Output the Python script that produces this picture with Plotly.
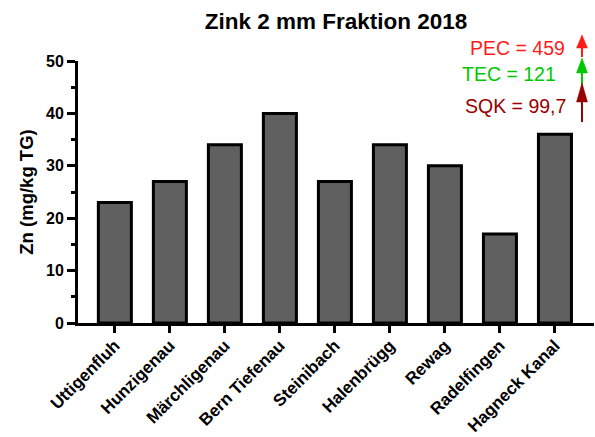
import plotly.graph_objects as go

# Zinc in the 2 mm fraction, 2018 (mg/kg dry weight)
sites = ["Uttigenfluh", "Hunzigenau", "Märchligenau", "Bern Tiefenau", "Steinibach",
         "Halenbrügg", "Rewag", "Radelfingen", "Hagneck Kanal"]
zn_values = [23, 27, 34, 40, 27, 34, 30, 17, 36]

# Threshold values, all above the plotted range
threshold_labels = ["PEC = 459", "TEC = 121", "SQK = 99,7"]
threshold_colors = ["#ff1a1a", "#00c800", "#990000"]

y_ticks = [0, 10, 20, 30, 40, 50]

FONT = "Arial, Liberation Sans, sans-serif"

fig = go.Figure()
fig.add_trace(go.Bar(
    x=list(range(len(sites))),
    y=zn_values,
    width=0.6,
    marker=dict(color="#606060", line=dict(color="black", width=3)),
    hoverinfo="x+y",
))

# plot-area geometry in pixels (for placing the threshold markers above it)
W, H = 595, 437
L, R, T, B = 78, 1, 61, 113.5
pw, ph = W - L - R, H - T - B


def px(x):
    return (x - L) / pw


def py(y):
    return (H - B - y) / ph


# threshold text + upward arrows
text_pos = [(567, 48), (558, 74), (568, 106)]
arrow_geo = [  # (tip, head base, tail) in pixel rows
    (35, 48, 57),
    (58, 73, 93),
    (83, 102, 122),
]
ax = 582
half = 5.5
shapes = []
annotations = []
for label, color, (tx, ty), (tip, base, tail) in zip(threshold_labels, threshold_colors, text_pos, arrow_geo):
    annotations.append(dict(
        x=px(tx), y=py(ty), xref="paper", yref="paper",
        text=label, showarrow=False, xanchor="right", yanchor="middle",
        font=dict(family=FONT, size=19.5, color=color),
    ))
    shapes.append(dict(
        type="line", xref="paper", yref="paper",
        x0=px(ax), x1=px(ax), y0=py(base), y1=py(tail),
        line=dict(color=color, width=2),
    ))
    shapes.append(dict(
        type="path", xref="paper", yref="paper",
        path=f"M {px(ax - half)} {py(base)} L {px(ax + half)} {py(base)} L {px(ax)} {py(tip)} Z",
        fillcolor=color, line=dict(color=color, width=0.5),
    ))

fig.update_layout(
    width=W, height=H,
    margin=dict(l=L, r=R, t=T, b=B, autoexpand=False),
    paper_bgcolor="white", plot_bgcolor="white",
    showlegend=False,
    font=dict(family=FONT, color="black"),
    title=dict(
        text="<b>Zink 2 mm Fraktion 2018</b>",
        x=0.5, xref="paper", xanchor="center", y=1 - 21 / H, yanchor="middle",
        font=dict(family=FONT, size=22.5, color="black"),
    ),
    xaxis=dict(
        range=[-0.67, 8.71],
        automargin=False,
        tickmode="array",
        tickvals=list(range(len(sites))),
        ticktext=[f"<b>{s}</b>" for s in sites],
        tickangle=-45,
        tickfont=dict(family=FONT, size=17, color="black"),
        ticklabelstandoff=-4,
        showline=True, linecolor="black", linewidth=3,
        ticks="outside", ticklen=7, tickwidth=2.5, tickcolor="black",
        showgrid=False, zeroline=False,
    ),
    yaxis=dict(
        range=[0, 50],
        automargin=False,
        tickmode="array",
        tickvals=y_ticks,
        ticktext=[f"<b>{v}</b>" for v in y_ticks],
        tickfont=dict(family=FONT, size=16, color="black"),
        showline=True, linecolor="black", linewidth=3,
        ticks="outside", ticklen=8, tickwidth=2.5, tickcolor="black",
        minor=dict(tickmode="linear", tick0=5, dtick=10, ticks="outside",
                   ticklen=4, tickwidth=2.5, tickcolor="black", showgrid=False),
        showgrid=False, zeroline=False,
        title=dict(text="<b>Zn (mg/kg TG)</b>",
                   font=dict(family=FONT, size=18.5, color="black"), standoff=8),
    ),
    shapes=shapes,
    annotations=annotations,
)

fig.write_html("out.html")
